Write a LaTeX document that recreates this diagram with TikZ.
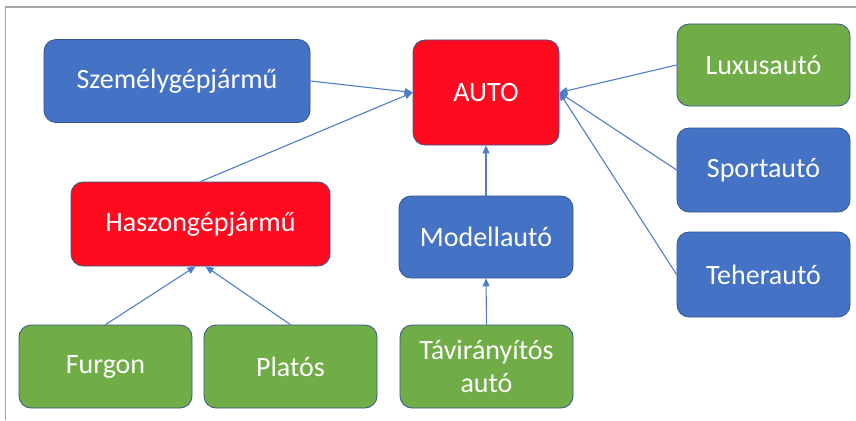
\documentclass[tikz,border=0pt]{standalone}
\usepackage{fontspec}
\setmainfont{Carlito}
\usetikzlibrary{arrows.meta}
\definecolor{oblue}{HTML}{4472C4}
\definecolor{ogreen}{HTML}{70AD47}
\definecolor{ored}{HTML}{FF0A1E}
\definecolor{oedge}{HTML}{34568F}
\definecolor{oline}{HTML}{4F7DCC}
\definecolor{frame}{HTML}{A6A6A6}
\tikzset{
  box/.style={rounded corners=12pt, draw=oedge, line width=0.8pt, text=white,
    font=\fontsize{28}{33}\selectfont, align=center, inner sep=0pt},
  bluebox/.style={box, fill=oblue},
  greenbox/.style={box, fill=ogreen},
  redbox/.style={box, fill=ored},
  conn/.style={draw=oline, line width=1.1pt, -{Triangle[length=8pt,width=7pt]}}
}
\begin{document}
\begin{tikzpicture}[x=1pt,y=-1pt]
\useasboundingbox (0,0) rectangle (856,420);
\draw[frame, line width=1.5pt] (5.5,420) -- (5.5,7) -- (856,7);
\node[bluebox, minimum width=266pt, minimum height=83pt] (szem) at (177,81) {Személygépjármű};
\node[redbox, minimum width=146pt, minimum height=105pt] (auto) at (486,92.5) {AUTO};
\node[greenbox, minimum width=173pt, minimum height=82pt] (lux) at (763.5,65) {Luxusautó};
\node[bluebox, minimum width=173pt, minimum height=84pt] (sport) at (763.5,170) {Sportautó};
\node[bluebox, minimum width=173pt, minimum height=85pt] (teher) at (763.5,274.5) {Teherautó};
\node[redbox, minimum width=259pt, minimum height=84pt] (hasz) at (200.5,224) {Haszongépjármű};
\node[bluebox, minimum width=174pt, minimum height=82pt] (model) at (486,237) {Modellautó};
\node[greenbox, minimum width=173pt, minimum height=83pt] (furgon) at (105.5,366.5) {Furgon};
\node[greenbox, minimum width=173pt, minimum height=83pt] (platos) at (290.5,366.5) {Platós};
\node[greenbox, minimum width=173pt, minimum height=83pt] (tavir) at (486.5,366.5) {Távirányítós\\autó};
\draw[conn] (szem.east) -- (auto.west);
\draw[conn] (hasz.north) -- (auto.west);
\draw[conn] (lux.west) -- (auto.east);
\draw[conn] (sport.west) -- (auto.east);
\draw[conn] (teher.west) -- (auto.east);
\draw[conn] (model.north) -- (auto.south);
\draw[conn] (tavir.north) -- (model.south);
\draw[conn] (furgon.north) -- ([xshift=-5pt]hasz.south);
\draw[conn] (platos.north) -- ([xshift=5pt]hasz.south);
\end{tikzpicture}
\end{document}
